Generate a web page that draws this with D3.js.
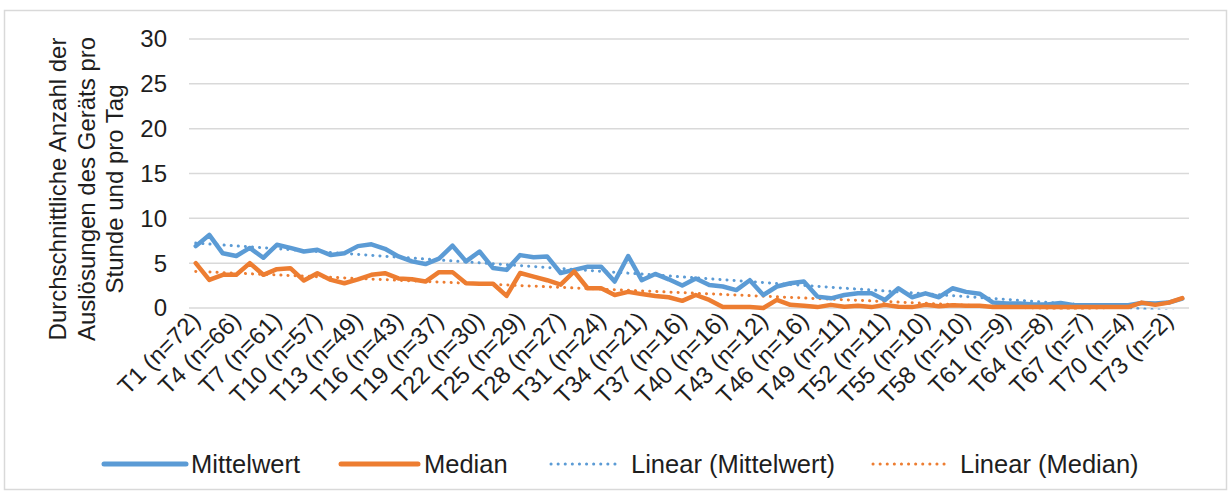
<!DOCTYPE html>
<html>
<head>
<meta charset="utf-8">
<script src="https://cdn.jsdelivr.net/npm/d3@7"></script>
<style>
  body { margin: 0; background: #fff; }
  text { font-family: "Liberation Sans", Arial, sans-serif; fill: #1e1e1e; }
</style>
</head>
<body>
<svg id="chart"></svg>
<script>
var width = 1231;
var height = 493;

// categories T1..T74, every third one gets a label
var categories = d3.range(1, 75).map(i => "T" + i);
var tickLabels = ["T1 (n=72)", "T4 (n=66)", "T7 (n=61)", "T10 (n=57)", "T13 (n=49)", "T16 (n=43)",
    "T19 (n=37)", "T22 (n=30)", "T25 (n=29)", "T28 (n=27)", "T31 (n=24)", "T34 (n=21)", "T37 (n=16)",
    "T40 (n=16)", "T43 (n=12)", "T46 (n=16)", "T49 (n=11)", "T52 (n=11)", "T55 (n=10)", "T58 (n=10)",
    "T61 (n=9)", "T64 (n=8)", "T67 (n=7)", "T70 (n=4)", "T73 (n=2)"];
var yTicks = [0, 5, 10, 15, 20, 25, 30];

var mittelwert = [6.9, 8.15, 6.1, 5.8, 6.7, 5.6, 7.05, 6.7, 6.3, 6.5,
    5.9, 6.1, 6.9, 7.1, 6.6, 5.75, 5.2, 4.9, 5.5, 6.95,
    5.2, 6.3, 4.45, 4.25, 5.9, 5.65, 5.75, 3.9, 4.25, 4.6,
    4.6, 2.95, 5.8, 3.1, 3.8, 3.2, 2.5, 3.3, 2.57, 2.4,
    2.0, 3.1, 1.45, 2.4, 2.76, 2.95, 1.27, 1.08, 1.45, 1.64,
    1.64, 0.9, 2.2, 1.2, 1.64, 1.2, 2.2, 1.8, 1.6, 0.6,
    0.5, 0.5, 0.4, 0.4, 0.55, 0.3, 0.3, 0.3, 0.3, 0.3,
    0.55, 0.5, 0.6, 1.05];
var median = [5.0, 3.13, 3.7, 3.7, 5.0, 3.7, 4.33, 4.44, 3.06, 3.88,
    3.13, 2.76, 3.2, 3.7, 3.88, 3.3, 3.2, 2.95, 4.0, 4.0,
    2.76, 2.7, 2.7, 1.35, 3.9, 3.5, 3.1, 2.6, 4.07, 2.2,
    2.2, 1.45, 1.8, 1.55, 1.35, 1.2, 0.8, 1.45, 0.9, 0.1,
    0.1, 0.1, 0.0, 0.9, 0.35, 0.25, 0.1, 0.35, 0.15, 0.25,
    0.1, 0.35, 0.15, 0.1, 0.35, 0.2, 0.3, 0.25, 0.25, 0.1,
    0.1, 0.1, 0.1, 0.1, 0.1, 0.1, 0.1, 0.1, 0.1, 0.1,
    0.6, 0.35, 0.6, 1.1];

var blue = "#5b9bd5", orange = "#ed7d31", grid = "#d9d9d9";

var svg = d3.select("#chart")
    .attr("width", width)
    .attr("height", height);

// chart frame
svg.append("rect")
    .attr("x", 4.5).attr("y", 10.5)
    .attr("width", 1222).attr("height", 479)
    .attr("fill", "none")
    .attr("stroke", grid)
    .attr("stroke-width", 1.5);

var x = d3.scaleBand().domain(categories).range([189, 1189]);
var y = d3.scaleLinear().domain([0, 30]).range([308, 39]);
var cx = d => x(d) + x.bandwidth() / 2;

// plot area clip for the trend lines (Excel cuts them at the axis minimum)
svg.append("clipPath").attr("id", "plotclip")
    .append("rect")
    .attr("x", 189).attr("y", 39)
    .attr("width", 1000).attr("height", y(0) - 39 + 1.5);

// gridlines
svg.append("g")
    .selectAll("line")
    .data(yTicks)
    .join("line")
    .attr("x1", 189).attr("x2", 1189)
    .attr("y1", d => y(d)).attr("y2", d => y(d))
    .attr("stroke", grid)
    .attr("stroke-width", 1.5);

// y tick labels
svg.append("g")
    .selectAll("text")
    .data(yTicks)
    .join("text")
    .attr("x", 167)
    .attr("y", d => y(d))
    .attr("dy", "0.35em")
    .attr("text-anchor", "end")
    .attr("font-size", 24)
    .text(d => d);

// x tick labels, rotated
svg.append("g")
    .selectAll("text")
    .data(tickLabels)
    .join("text")
    .attr("transform", (d, i) => "translate(" + (cx(categories[i * 3]) + 0) + ",316) rotate(-45)")
    .attr("dy", "0.35em")
    .attr("text-anchor", "end")
    .attr("font-size", 24)
    .text(d => d);

// y axis title
var title = svg.append("text")
    .attr("transform", "translate(58,189) rotate(-90)")
    .attr("text-anchor", "middle")
    .attr("font-size", 24);
["Durchschnittliche Anzahl der", "Auslösungen des Geräts pro", "Stunde und pro Tag"].forEach((t, i) => {
    title.append("tspan").attr("x", 0).attr("y", i * 28.5).attr("dy", "0.35em").text(t);
});

// linear trend (least squares over category index)
function trend(vals) {
    let n = vals.length;
    let mx = d3.mean(d3.range(n)), my = d3.mean(vals);
    let sxy = d3.sum(vals, (v, i) => (i - mx) * (v - my));
    let sxx = d3.sum(d3.range(n), i => (i - mx) * (i - mx));
    let b = sxy / sxx, a = my - b * mx;
    return [[0, a], [n - 1, a + b * (n - 1)]];
}

var line = d3.line()
    .x((d, i) => cx(categories[i]))
    .y(d => y(d));
var trendLine = d3.line()
    .x(d => cx(categories[d[0]]))
    .y(d => y(d[1]));

var trends = svg.append("g").attr("clip-path", "url(#plotclip)");
trends.append("path")
    .attr("d", trendLine(trend(mittelwert)))
    .attr("fill", "none").attr("stroke", blue)
    .attr("stroke-width", 3)
    .attr("stroke-linecap", "round")
    .attr("stroke-dasharray", "0.1 7");
trends.append("path")
    .attr("d", trendLine(trend(median)))
    .attr("fill", "none").attr("stroke", orange)
    .attr("stroke-width", 3)
    .attr("stroke-linecap", "round")
    .attr("stroke-dasharray", "0.1 7");

svg.append("path")
    .attr("d", line(mittelwert))
    .attr("fill", "none").attr("stroke", blue)
    .attr("stroke-width", 4.5)
    .attr("stroke-linejoin", "round")
    .attr("stroke-linecap", "round");
svg.append("path")
    .attr("d", line(median))
    .attr("fill", "none").attr("stroke", orange)
    .attr("stroke-width", 4.5)
    .attr("stroke-linejoin", "round")
    .attr("stroke-linecap", "round");

// legend
var legendItems = [
    {name: "Mittelwert", color: blue, dotted: false, x0: 104, x1: 186, tx: 191},
    {name: "Median", color: orange, dotted: false, x0: 341, x1: 418, tx: 424},
    {name: "Linear (Mittelwert)", color: blue, dotted: true, x0: 551, x1: 621, tx: 631},
    {name: "Linear (Median)", color: orange, dotted: true, x0: 873, x1: 948, tx: 960}
];
var legend = svg.append("g");
legendItems.forEach(it => {
    legend.append("line")
        .attr("x1", it.x0).attr("x2", it.x1)
        .attr("y1", 464).attr("y2", 464)
        .attr("stroke", it.color)
        .attr("stroke-width", it.dotted ? 3 : 5)
        .attr("stroke-linecap", "round")
        .attr("stroke-dasharray", it.dotted ? "0.1 7" : null);
    legend.append("text")
        .attr("x", it.tx).attr("y", 464)
        .attr("dy", "0.35em")
        .attr("font-size", 25.5)
        .text(it.name);
});
</script>
</body>
</html>
